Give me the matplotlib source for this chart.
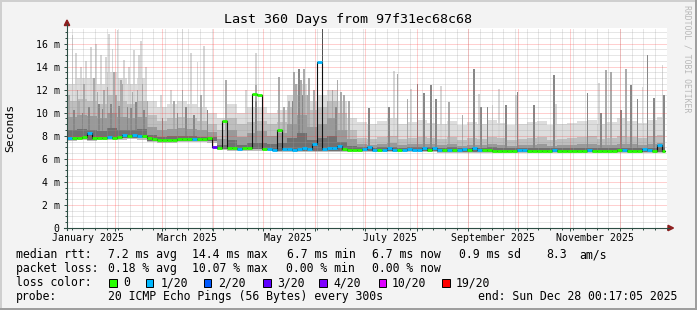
import numpy as np
import matplotlib
matplotlib.use('Agg')
import matplotlib.pyplot as plt
import matplotlib.dates as mdates
from matplotlib.patches import Rectangle, Polygon
from matplotlib.lines import Line2D
from matplotlib.ticker import MultipleLocator, NullFormatter, FuncFormatter, FixedLocator

# ---------------- data ----------------
start = np.datetime64('2025-01-03T05:00')
data_end = np.datetime64('2025-12-28T00:17')
view_end = np.datetime64('2025-12-29T05:00')

# median rtt (ms), 3-day buckets
median_ms = [7.8, 7.85, 7.8, 7.9, 8.25, 7.85, 7.8, 7.85, 7.9, 7.85, 7.9, 8.05, 7.95, 8.1, 8.0, 7.95, 7.85,
             7.7, 7.6, 7.6, 7.6, 7.65, 7.7, 7.75, 7.7, 7.75, 7.7, 7.75, 7.8,
             7.0, 6.95, 9.3, 6.9, 6.9, 6.85, 6.9, 6.95, 11.6, 11.5,
             6.85, 6.85, 6.8, 8.5, 6.85, 6.85, 6.8, 6.85, 6.9, 6.85, 7.3, 14.4, 6.85, 6.9, 6.95, 7.1, 6.85, 6.8,
             6.8, 6.8, 6.85, 7.0, 6.8, 6.8, 6.8, 6.9, 6.8, 6.8, 6.8, 6.85, 6.8, 6.8, 6.9, 6.8, 6.95, 6.8, 6.8,
             6.8, 6.75, 6.8, 6.85, 6.8, 6.9, 6.8, 6.75, 6.75, 6.7, 6.7, 6.7, 6.7, 6.7, 6.75, 6.8, 6.7, 6.7,
             6.7, 6.7, 6.7, 6.8, 6.7, 6.7, 6.7, 6.7, 6.7, 6.7, 6.8, 6.7, 6.7, 6.7, 6.7, 6.7, 6.75, 6.8, 6.7,
             6.7, 6.7, 6.85, 6.75, 6.7, 7.2, 6.7]
# loss level index per bucket (0 -> 0, 1 -> 1/20, 2 -> 2/20, 3 -> 3/20 ...)
loss_lvl = [1, 0, 0, 0, 1, 0, 0, 0, 1, 0, 0, 1, 0, 1, 1, 0, 0,
            0, 0, 0, 0, 0, 0, 0, 0, 1, 0, 0, 0,
            3, 0, 0, 0, 0, 1, 0, 0, 0, 0,
            0, 1, 1, 0, 1, 1, 1, 1, 1, 1, 1, 1, 1, 1, 1, 1, 0, 0,
            0, 0, 1, 1, 1, 0, 1, 1, 1, 0, 1, 1, 1, 1, 1, 0, 1, 1, 0,
            1, 0, 1, 1, 0, 1, 1, 0, 0, 0, 0, 0, 0, 0, 1, 1, 0, 0,
            0, 0, 0, 1, 0, 0, 0, 0, 0, 0, 1, 0, 0, 0, 0, 0, 0, 1, 0,
            0, 0, 1, 1, 0, 1, 0]

# smoke envelope (ms), 6-day buckets
smoke_min = [7.55, 7.6, 7.55, 7.6, 7.65, 7.65, 7.7, 7.65, 7.45,
             7.4, 7.4, 7.45, 7.45, 7.45, 7.4,
             6.75, 6.7, 6.7, 6.7, 6.7,
             6.65, 6.6, 6.6, 6.6, 6.6, 6.6, 6.6, 6.6, 6.6,
             6.6, 6.55, 6.55, 6.6, 6.55, 6.55, 6.55, 6.55, 6.5, 6.5, 6.5, 6.5, 6.5, 6.5, 6.5, 6.5,
             6.5, 6.5, 6.5, 6.5, 6.5, 6.5, 6.5, 6.5, 6.5, 6.5, 6.5, 6.5, 6.5, 6.5, 6.5]
smoke_p60 = [8.5, 8.6, 8.5, 8.4, 8.7, 8.5, 8.5, 8.6, 8.1,
             7.9, 8.0, 8.0, 8.0, 7.9, 7.9,
             7.2, 7.6, 7.2, 7.4, 7.4,
             7.3, 7.4, 7.8, 8.2, 7.6, 7.8, 8.0, 7.5, 7.1,
             7.0, 6.95, 7.0, 7.05, 6.95, 7.0, 7.0, 7.0, 6.95, 7.0, 6.9, 6.95, 6.95, 7.0, 6.95, 6.9,
             6.9, 6.9, 6.95, 6.9, 6.9, 6.9, 6.95, 6.95, 6.9, 6.9, 6.95, 6.95, 6.9, 6.95, 7.0]
smoke_p75 = [9.6, 9.8, 9.7, 9.5, 10.0, 9.6, 9.5, 9.6, 8.8,
             8.5, 8.6, 8.7, 8.6, 8.5, 8.3,
             7.7, 8.5, 7.9, 8.2, 8.4,
             8.0, 8.2, 9.0, 9.8, 8.8, 9.0, 9.5, 8.5, 7.7,
             7.3, 7.2, 7.3, 7.4, 7.2, 7.3, 7.3, 7.3, 7.2, 7.3, 7.1, 7.2, 7.2, 7.3, 7.2, 7.1,
             7.2, 7.2, 7.3, 7.1, 7.2, 7.2, 7.3, 7.3, 7.2, 7.2, 7.3, 7.3, 7.2, 7.3, 7.4]
smoke_p90 = [11.0, 11.2, 11.0, 10.8, 11.5, 11.0, 10.8, 11.0, 9.8,
             9.3, 9.5, 9.6, 9.5, 9.3, 9.0,
             8.5, 9.5, 9.0, 9.2, 9.3,
             9.0, 9.2, 10.5, 11.5, 10.2, 10.5, 11.0, 10.0, 8.5,
             7.8, 7.7, 7.9, 8.0, 7.7, 7.8, 7.9, 7.8, 7.7, 7.9, 7.6, 7.8, 7.7, 7.9, 7.8, 7.6,
             7.7, 7.8, 7.9, 7.6, 7.7, 7.8, 7.9, 8.0, 7.7, 7.8, 8.0, 7.9, 7.8, 8.0, 8.1]
smoke_max = [12.5, 13.0, 13.0, 12.5, 13.5, 13.0, 12.5, 13.0, 11.0,
             10.5, 10.8, 11.0, 10.8, 10.5, 10.0,
             9.5, 10.8, 10.0, 10.5, 10.5,
             10.0, 10.2, 11.5, 12.5, 11.0, 11.5, 12.0, 11.0, 9.5,
             9.2, 9.0, 9.3, 9.5, 9.0, 9.2, 9.4, 9.1, 9.0, 9.3, 8.9, 9.2, 9.0, 9.4, 9.1, 8.9,
             9.0, 9.2, 9.3, 8.9, 9.0, 9.1, 9.3, 9.4, 9.0, 9.2, 9.5, 9.3, 9.1, 9.4, 9.6]

# isolated smoke spikes: date, top (ms), shade class
spike_dates = ['2025-01-06', '2025-01-11', '2025-01-17', '2025-01-23', '2025-01-28', '2025-02-02',
               '2025-02-09', '2025-02-12', '2025-02-16', '2025-02-19',
               '2025-01-13', '2025-01-19', '2025-01-25', '2025-01-31', '2025-02-05', '2025-02-14',
               '2025-01-16', '2025-01-29', '2025-02-08',
               '2025-03-13', '2025-03-13', '2025-03-18', '2025-03-22', '2025-03-26', '2025-03-06', '2025-02-28',
               '2025-04-08', '2025-04-26', '2025-04-26', '2025-04-26', '2025-04-20',
               '2025-05-10', '2025-05-16', '2025-05-19', '2025-05-22', '2025-05-25', '2025-05-28', '2025-05-31',
               '2025-06-02', '2025-06-05', '2025-06-11', '2025-06-14', '2025-06-18', '2025-06-21',
               '2025-07-03', '2025-07-15', '2025-07-18', '2025-07-20', '2025-07-26', '2025-07-28',
               '2025-08-01', '2025-08-05', '2025-08-09', '2025-08-12', '2025-08-15', '2025-08-20', '2025-08-28',
               '2025-09-04', '2025-09-07', '2025-09-08', '2025-09-12', '2025-09-15', '2025-09-19', '2025-09-23',
               '2025-09-29', '2025-09-30', '2025-10-10', '2025-10-22', '2025-10-23',
               '2025-11-11', '2025-11-18', '2025-11-19', '2025-11-22', '2025-11-25',
               '2025-12-01', '2025-12-04', '2025-12-07', '2025-12-11', '2025-12-14', '2025-12-17',
               '2025-12-21', '2025-12-26', '2025-12-27',
               # Jan-Feb texture
               '2025-01-08', '2025-01-14', '2025-01-20', '2025-01-26', '2025-01-30', '2025-02-06', '2025-02-15',
               '2025-01-04', '2025-01-09', '2025-01-10', '2025-01-21', '2025-01-27', '2025-02-01', '2025-02-04',
               '2025-02-11', '2025-02-17', '2025-02-20',
               '2025-01-07', '2025-01-12', '2025-01-22', '2025-01-24', '2025-02-03', '2025-02-10', '2025-02-13',
               '2025-02-18',
               # March texture
               '2025-03-01', '2025-03-10', '2025-03-15', '2025-03-20', '2025-03-28', '2025-03-08', '2025-03-24',
               # May-June texture
               '2025-05-13', '2025-05-20', '2025-05-23', '2025-05-27', '2025-06-08', '2025-06-16',
               '2025-05-18', '2025-05-24', '2025-06-13']
spike_top = [16.7, 14.0, 15.7, 15.0, 16.8, 17.2, 14.0, 15.4, 16.2, 14.0,
             12.5, 13.0, 12.0, 13.5, 12.5, 12.0,
             10.5, 10.8, 10.5,
             17.3, 12.0, 15.2, 14.4, 15.8, 12.0, 11.5,
             12.8, 15.2, 12.4, 11.0, 12.0,
             13.1, 11.0, 13.5, 13.8, 13.8, 13.0, 12.0,
             12.5, 17.3, 12.0, 12.8, 11.5, 11.0,
             10.4, 10.5, 13.6, 13.4, 11.2, 12.1,
             12.5, 11.7, 12.4, 11.2, 12.3, 10.9, 9.8,
             13.8, 11.6, 10.5, 10.5, 10.7, 12.1, 10.7,
             11.5, 11.8, 10.7, 13.3, 10.8,
             11.7, 12.6, 10.0, 13.7, 13.5,
             10.2, 13.8, 12.4, 11.2, 12.2, 15.0,
             11.3, 14.1, 11.5,
             15.2, 14.5, 16.0, 14.8, 15.5, 14.6, 15.0,
             11.5, 12.0, 11.0, 11.8, 12.2, 11.5, 12.8,
             11.8, 12.5, 11.0,
             10.2, 10.0, 10.8, 10.3, 10.6, 10.4, 10.9,
             10.2,
             9.5, 10.0, 10.5, 9.8, 10.2, 11.0, 11.5,
             10.5, 12.5, 12.8, 11.5, 11.0, 11.8,
             11.0, 11.5, 10.5]
spike_shade = ['L', 'L', 'L', 'L', 'L', 'L', 'L', 'L', 'L', 'L',
               'M', 'M', 'M', 'M', 'M', 'M',
               'D', 'D', 'D',
               'L', 'M', 'L', 'L', 'L', 'L', 'L',
               'M', 'L', 'M', 'D', 'L',
               'M', 'M', 'M', 'D', 'M', 'M', 'M',
               'M', 'K', 'M', 'M', 'M', 'M',
               'D', 'D', 'L', 'M', 'M', 'L',
               'D', 'D', 'D', 'D', 'L', 'M', 'M',
               'D', 'L', 'D', 'D', 'L', 'L', 'D',
               'L', 'D', 'D', 'D', 'L',
               'D', 'L', 'D', 'M', 'M',
               'D', 'M', 'D', 'D', 'L', 'D',
               'D', 'L', 'D',
               'L', 'L', 'L', 'L', 'L', 'L', 'L',
               'M', 'M', 'M', 'M', 'M', 'M', 'M',
               'M', 'M', 'M',
               'D', 'D', 'D', 'D', 'D', 'D', 'D',
               'D',
               'D', 'D', 'D', 'D', 'D', 'M', 'M',
               'M', 'M', 'M', 'M', 'M', 'M',
               'D', 'D', 'D']

loss_colors = ['#26ff00', '#00b8ff', '#0059ff', '#5e00ff', '#7e00ff', '#dd00ff', '#ff0000']
loss_labels = ['0', '1/20', '2/20', '3/20', '4/20', '10/20', '19/20']

# ---------------- figure ----------------
W, H = 697, 310
BG = '#f3f3f3'
fig = plt.figure(figsize=(W / 100, H / 100), dpi=100, facecolor=BG)
MONO = 'DejaVu Sans Mono'


def fx(x):
    return x / W


def fy(y):
    return 1 - y / H


ax = fig.add_axes([fx(67), fy(228), 600 / W, 200 / H])
ax.set_facecolor('white')
for s in ax.spines.values():
    s.set_visible(False)

x0 = mdates.date2num(start)
x1 = mdates.date2num(view_end)
xe_end = mdates.date2num(data_end)
YMAX = 17.35


def edges(n, step_days):
    e = start + np.arange(n + 1) * np.timedelta64(step_days * 24, 'h')
    e = mdates.date2num(e)
    e[-1] = min(e[-1], xe_end)
    return e


# smoke bands
se = edges(len(smoke_max), 6)
lo = np.array(smoke_min)
inner_lo = lo + 0.12
p60 = np.array(smoke_p60)
p75 = np.array(smoke_p75)
p90 = np.array(smoke_p90)
bands = [(lo, np.array(smoke_max), '#dddddd'),
         (lo, p90, '#bebebe'),
         (inner_lo, p75, '#999999'),
         (inner_lo, p60, '#707070')]
for low, high, col in bands:
    high = np.maximum(high, low)
    ax.fill_between(se, np.append(low, low[-1]), np.append(high, high[-1]), step='post',
                    color=col, lw=0, zorder=1)

# spikes: each rises out of the band matching its shade
sd = np.array(spike_dates, dtype='datetime64[h]') + np.timedelta64(12, 'h')
sx = mdates.date2num(sd)
s_idx = np.clip(((sx - x0) // 6).astype(int), 0, len(lo) - 1)
shade_col = {'L': '#d6d6d6', 'M': '#ababab', 'D': '#878787', 'K': '#505050'}
base_arr = {'L': p90, 'M': p75, 'D': p60, 'K': p60}
order = {'L': 0, 'M': 1, 'D': 2, 'K': 3}
for k in sorted(range(len(sx)), key=lambda i: order[spike_shade[i]]):
    sh = spike_shade[k]
    b = base_arr[sh][s_idx[k]]
    ax.bar(sx[k], spike_top[k] - b, bottom=b, width=1.1, color=shade_col[sh],
           lw=0, zorder=1.5 + 0.1 * order[sh])

# median
me = edges(len(median_ms), 3)
med = np.array(median_ms)
ax.step(me, np.append(med, med[-1]), where='post', color='#101010', lw=0.8, zorder=3)
for i in range(len(med)):
    ax.hlines(med[i], me[i], me[i + 1], color=loss_colors[loss_lvl[i]], lw=2.0, zorder=4,
              capstyle='butt')

ax.set_xlim(x0, x1)
ax.set_ylim(0, YMAX)

# grid (drawn over the smoke, dotted)
months = np.arange(np.datetime64('2025-01'), np.datetime64('2026-01'), dtype='datetime64[M]')
month_x = [v for v in mdates.date2num(months.astype('datetime64[D]')) if x0 < v < x1]
mondays = np.arange(np.datetime64('2025-01-06'), np.datetime64('2025-12-31'), np.timedelta64(7, 'D'))
week_x = [v for v in mdates.date2num(mondays) if x0 < v < x1]
y_major = np.arange(2, 17, 2)
y_minor = [v for v in np.arange(0.5, YMAX, 0.5) if v % 2 != 0]
GMIN = (0.62, 0.62, 0.62, 0.5)
GMAJ = (1.0, 0.25, 0.25, 0.5)
ax.vlines(week_x, 0, YMAX, colors=[GMIN], linestyles=[(0, (1, 1))], lw=0.72, zorder=2.5)
ax.hlines(y_minor, x0, x1, colors=[GMIN], linestyles=[(0, (1, 1))], lw=0.72, zorder=2.5)
ax.vlines(month_x, 0, YMAX, colors=[GMAJ], linestyles=[(0, (1, 1))], lw=0.72, zorder=2.6)
ax.hlines(y_major, x0, x1, colors=[GMAJ], linestyles=[(0, (1, 1))], lw=0.72, zorder=2.6)

ax.xaxis.set_major_locator(FixedLocator(month_x))
ax.xaxis.set_minor_locator(FixedLocator(week_x))
ax.xaxis.set_major_formatter(NullFormatter())
ax.yaxis.set_major_locator(MultipleLocator(2))
ax.yaxis.set_minor_locator(MultipleLocator(0.5))
ax.yaxis.set_major_formatter(FuncFormatter(lambda v, p: '0' if v == 0 else '%d m' % v))
ax.tick_params(which='both', direction='out', color='#2c4d43', width=0.7)
ax.tick_params(which='major', length=2.2, pad=3.2, labelsize=7.1)
ax.tick_params(which='minor', length=1.4)
for lab in ax.get_yticklabels():
    lab.set_fontfamily(MONO)

# month labels, centred half a month after month start
for m in ['2025-01-16', '2025-03-16', '2025-05-16', '2025-07-16', '2025-09-16', '2025-11-16']:
    d = np.datetime64(m)
    txt = str(d.astype(object).strftime('%B %Y'))
    xf = fx(67 + (mdates.date2num(d) - x0) / (x1 - x0) * 600)
    fig.text(xf, fy(238), txt, ha='center', va='center', fontsize=7.1, family=MONO)

# axis lines and arrows
AX = '#2c4d43'
fig.add_artist(Line2D([fx(67), fx(67)], [fy(230), fy(24)], color=AX, lw=0.8, transform=fig.transFigure))
fig.add_artist(Line2D([fx(64), fx(669)], [fy(228), fy(228)], color=AX, lw=0.8, transform=fig.transFigure))
ARR = '#8e1f1f'
fig.add_artist(Polygon([[fx(67), fy(20)], [fx(64.3), fy(25.5)], [fx(69.7), fy(25.5)]], closed=True,
                       color=ARR, transform=fig.transFigure))
fig.add_artist(Polygon([[fx(673.5), fy(228)], [fx(668), fy(225.3)], [fx(668), fy(230.7)]], closed=True,
                       color=ARR, transform=fig.transFigure))

# title / labels
fig.text(fx(348.5), fy(19), 'Last 360 Days from 97f31ec68c68', ha='center', va='center',
         fontsize=9.6, family=MONO)
fig.text(fx(10.5), fy(128), 'Seconds', rotation=90, ha='center', va='center', fontsize=8.2, family=MONO)
fig.text(fx(686.5), fy(59), 'RRDTOOL / TOBI OETIKER', rotation=270, ha='center', va='center',
         fontsize=5.9, family=MONO, color='#b8b8b8')

LF = 8.3
rows = [
    (254.5, [(16, 'median rtt:'), (107.6, '7.2 ms avg'), (192, '14.4 ms max'), (286.7, '6.7 ms min'),
             (372.4, '6.7 ms now'), (458.7, '0.9 ms sd'), (545.8, '8.3'), (579, 'am/s')]),
    (268.5, [(16, 'packet loss:'), (107.6, '0.18 % avg'), (192, '10.07 % max'), (285.8, '0.00 % min'),
             (372.4, '0.00 % now')]),
    (282.5, [(16, 'loss color:')]),
    (296.5, [(16, 'probe:'), (107.6, '20 ICMP Echo Pings (56 Bytes) every 300s'),
             (477.8, 'end: Sun Dec 28 00:17:05 2025')]),
]
for y, items in rows:
    for x, t in items:
        fig.text(fx(x), fy(y), t, ha='left', va='center', fontsize=LF, family=MONO)

box_x = [109, 145.5, 203.8, 263.2, 319.2, 378.8, 442.2]
txt_x = [123.6, 160.9, 217.8, 276.9, 333, 392, 455.6]
for bx, tx, c, lbl in zip(box_x, txt_x, loss_colors, loss_labels):
    fig.add_artist(Rectangle((fx(bx), fy(286.5)), 7.5 / W, 8 / H, facecolor=c, edgecolor='black',
                             lw=0.7, transform=fig.transFigure))
    fig.text(fx(tx), fy(282.5), lbl, ha='left', va='center', fontsize=LF, family=MONO)

# frame
fig.add_artist(Rectangle((0, fy(2)), 1, 2 / H, facecolor='#cfcfcf', lw=0, transform=fig.transFigure))
fig.add_artist(Rectangle((0, 0), 2 / W, 1, facecolor='#cfcfcf', lw=0, transform=fig.transFigure))
fig.add_artist(Rectangle((0, 0), 1, 2 / H, facecolor='#9e9e9e', lw=0, transform=fig.transFigure))
fig.add_artist(Rectangle((fx(695), 0), 2 / W, 1, facecolor='#9e9e9e', lw=0, transform=fig.transFigure))

fig.savefig('out.png', dpi=100, facecolor=BG)
